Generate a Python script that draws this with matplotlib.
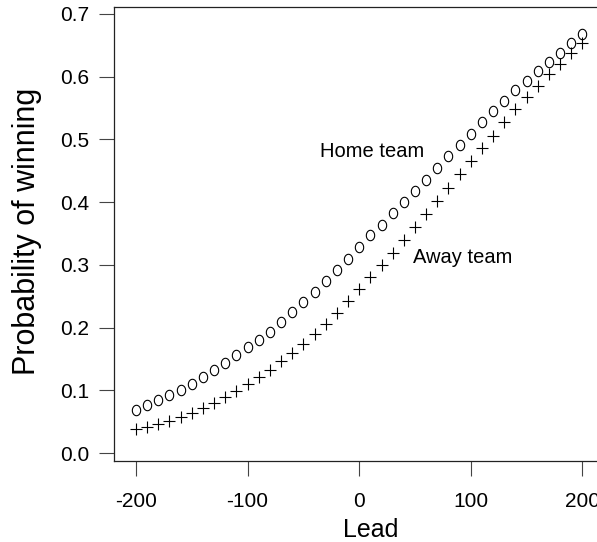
import numpy as np
import matplotlib
matplotlib.use("Agg")
import matplotlib.pyplot as plt
from matplotlib.path import Path

lead = list(range(-200, 201, 10))
home = [0.068, 0.076, 0.084, 0.092, 0.101, 0.110, 0.121, 0.132, 0.143, 0.156,
        0.169, 0.180, 0.193, 0.209, 0.225, 0.241, 0.256, 0.275, 0.292, 0.310,
        0.328, 0.347, 0.364, 0.382, 0.400, 0.418, 0.436, 0.454, 0.473, 0.491,
        0.508, 0.527, 0.545, 0.561, 0.579, 0.593, 0.609, 0.623, 0.638, 0.654,
        0.668]
away = [0.038, 0.042, 0.046, 0.051, 0.057, 0.064, 0.072, 0.080, 0.089, 0.099,
        0.110, 0.121, 0.133, 0.146, 0.160, 0.174, 0.190, 0.206, 0.224, 0.242,
        0.261, 0.280, 0.300, 0.319, 0.340, 0.360, 0.381, 0.402, 0.423, 0.445,
        0.465, 0.486, 0.506, 0.528, 0.548, 0.567, 0.585, 0.604, 0.621, 0.638,
        0.654]
xticks = [-200, -100, 0, 100, 200]
yticks = [0.0, 0.1, 0.2, 0.3, 0.4, 0.5, 0.6, 0.7]

fam = ['Liberation Sans', 'DejaVu Sans']

fig = plt.figure(figsize=(5.97, 5.42), dpi=100)
ax = fig.add_axes([114/597, 81/542, 490.7/597, 454/542])

# slightly tall ellipse marker (like the letter O)
t = np.linspace(0, 2*np.pi, 60)
ell = Path(np.column_stack([0.8*np.cos(t), np.sin(t)]), closed=True)

ax.plot(lead, home, linestyle='none', marker=ell, markersize=7.5,
        markerfacecolor='none', markeredgecolor='black', markeredgewidth=0.8)
ax.plot(lead, away, linestyle='none', marker='+', markersize=8,
        color='black', markeredgewidth=0.8)

ax.set_xlim(-219.7, 220)
ax.set_ylim(-0.0127, 0.7111)
ax.set_xticks(xticks)
ax.set_yticks(yticks)
ax.set_xticklabels([str(v) for v in xticks], family=fam, fontsize=15)
ax.set_yticklabels([f"{v:.1f}" for v in yticks], family=fam, fontsize=15)
ax.tick_params(axis='both', direction='out', length=10.8, width=0.8, color='#444444')
ax.tick_params(axis='y', pad=7)
ax.tick_params(axis='x', pad=11.5)
for s in ax.spines.values():
    s.set_linewidth(0.9)
    s.set_color('#222222')

ax.set_xlabel('Lead', family=fam, fontsize=18)
ax.xaxis.set_label_coords(0.524, -0.1674)
ax.xaxis.label.set_va('baseline')
ax.set_ylabel('Probability of winning', family=fam, fontsize=22)
ax.yaxis.set_label_coords(-0.177, 0.5066)
ax.yaxis.label.set_va('center')

ax.text(-35, 0.480, 'Home team', family=fam, fontsize=14.5, ha='left', va='center')
ax.text(48, 0.312, 'Away team', family=fam, fontsize=14.5, ha='left', va='center')

fig.savefig('out.png', dpi=100)
